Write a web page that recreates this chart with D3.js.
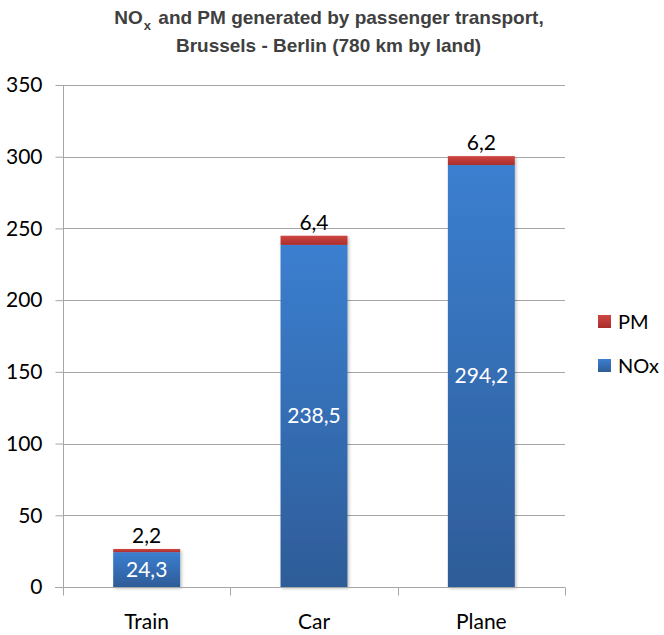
<!DOCTYPE html>
<html><head><meta charset="utf-8">
<script src="https://cdn.jsdelivr.net/npm/d3@7"></script>
<style>body{margin:0;background:#fff}svg{display:block}</style>
</head><body>
<script>
const categories = ["Train", "Car", "Plane"];
const noxValues = [24.3, 238.5, 294.2];
const pmValues = [2.2, 6.4, 6.2];
const noxLabels = ["24,3", "238,5", "294,2"];
const pmLabels = ["2,2", "6,4", "6,2"];
const yTicks = [0, 50, 100, 150, 200, 250, 300, 350];
const seriesNames = ["PM", "NOx"];

const W = 664, H = 635;
const m = {left: 63, right: 99, top: 85, bottom: 48};
const svg = d3.select("body").append("svg").attr("width", W).attr("height", H);
const defs = svg.append("defs");
const gb = defs.append("linearGradient").attr("id","gBlue").attr("x1",0).attr("y1",0).attr("x2",0).attr("y2",1);
gb.append("stop").attr("offset","0%").attr("stop-color","#3b7fd0");
gb.append("stop").attr("offset","100%").attr("stop-color","#2e5c98");
const gr = defs.append("linearGradient").attr("id","gRed").attr("x1",0).attr("y1",0).attr("x2",0).attr("y2",1);
gr.append("stop").attr("offset","0%").attr("stop-color","#d04642");
gr.append("stop").attr("offset","100%").attr("stop-color","#a82e2c");
const f = defs.append("filter").attr("id","sh").attr("x","-10%").attr("y","-10%").attr("width","130%").attr("height","130%");
f.append("feDropShadow").attr("dx",1.5).attr("dy",1.5).attr("stdDeviation",1.5).attr("flood-color","#000").attr("flood-opacity",0.25);

const x = d3.scaleBand().domain(categories).range([m.left, W - m.right]).paddingInner(0.6).paddingOuter(0.3);
const xb = d3.scaleBand().domain(categories).range([m.left, W - m.right]);
const y = d3.scaleLinear().domain([0, 350]).range([H - m.bottom, m.top]);

const font = "Lato, 'Open Sans', sans-serif";

// gridlines
svg.append("g").selectAll("line").data(yTicks.filter(d => d > 0)).join("line")
  .attr("x1", m.left).attr("x2", W - m.right)
  .attr("y1", d => Math.round(y(d)) + 0.5).attr("y2", d => Math.round(y(d)) + 0.5)
  .attr("stroke", "#a6a6a6").attr("stroke-width", 1);

// y axis
const ya = svg.append("g").attr("transform", `translate(${m.left + 0.5},0)`)
  .call(d3.axisLeft(y).tickValues(yTicks).tickSize(8).tickPadding(13).tickFormat(d3.format("d")));
ya.select(".domain").attr("stroke", "#a6a6a6").attr("d", `M0,${y(350)}V${y(0)}`);
ya.selectAll(".tick line").attr("stroke", "#a6a6a6");
ya.selectAll(".tick text").attr("font-family", font).attr("font-size", 21).attr("fill", "#000");

// bars
const bars = svg.append("g").attr("filter", "url(#sh)");
bars.selectAll("rect.nox").data(categories).join("rect").attr("class","nox")
  .attr("x", d => x(d)).attr("width", x.bandwidth())
  .attr("y", (d,i) => y(noxValues[i])).attr("height", (d,i) => y(0) - y(noxValues[i]))
  .attr("fill", "url(#gBlue)");
bars.selectAll("rect.pm").data(categories).join("rect").attr("class","pm")
  .attr("x", d => x(d)).attr("width", x.bandwidth())
  .attr("y", (d,i) => y(noxValues[i] + pmValues[i])).attr("height", (d,i) => y(noxValues[i]) - y(noxValues[i] + pmValues[i]))
  .attr("fill", "url(#gRed)");

// x axis
const xa = svg.append("g").attr("transform", `translate(0,${Math.round(y(0)) + 0.5})`);
xa.append("line").attr("x1", m.left - 8).attr("x2", W - m.right).attr("stroke", "#a6a6a6");
const bounds = [m.left].concat(categories.map(c => xb(c) + xb.bandwidth()));
xa.selectAll("line.t").data(bounds).join("line").attr("class","t")
  .attr("x1", d => Math.round(d) + 0.5).attr("x2", d => Math.round(d) + 0.5)
  .attr("y1", 0).attr("y2", 8).attr("stroke", "#a6a6a6");
xa.selectAll("text").data(categories).join("text")
  .attr("x", d => xb(d) + xb.bandwidth() / 2).attr("y", 41)
  .attr("text-anchor", "middle").attr("font-family", font).attr("font-size", 21).attr("fill", "#000")
  .text(d => d);

// value labels
svg.selectAll("text.pml").data(categories).join("text").attr("class","pml")
  .attr("x", d => x(d) + x.bandwidth() / 2)
  .attr("y", (d,i) => y(noxValues[i] + pmValues[i]) - 6)
  .attr("text-anchor", "middle").attr("font-family", font).attr("font-size", 21).attr("fill", "#000")
  .text((d,i) => pmLabels[i]);
svg.selectAll("text.noxl").data(categories).join("text").attr("class","noxl")
  .attr("x", d => x(d) + x.bandwidth() / 2)
  .attr("y", (d,i) => y(noxValues[i] / 2))
  .attr("dy", "0.35em")
  .attr("text-anchor", "middle").attr("font-family", font).attr("font-size", 21).attr("fill", "#fff")
  .text((d,i) => noxLabels[i]);

// legend
const lg = svg.append("g").attr("transform", "translate(598,315)");
const legendFills = ["url(#gRed)", "url(#gBlue)"];
seriesNames.forEach((s, i) => {
  const g = lg.append("g").attr("transform", `translate(0,${i * 44})`);
  g.append("rect").attr("width", 13).attr("height", 13).attr("fill", legendFills[i]);
  g.append("text").attr("x", 20).attr("y", 6.5).attr("dy", "0.36em")
    .attr("font-family", font).attr("font-size", 20).attr("fill", "#000").text(s);
});

// title
const tfont = "'Liberation Sans Narrow', 'Arial Narrow', 'Liberation Sans', sans-serif";
const t1 = svg.append("text").attr("x", 329).attr("y", 24).attr("text-anchor", "middle")
  .attr("font-family", tfont).attr("font-weight", "bold").attr("font-size", 19).attr("fill", "#404040");
t1.append("tspan").text("NO");
t1.append("tspan").attr("font-size", 13).attr("dy", 6).attr("dx", 1).text("x");
t1.append("tspan").attr("dy", -6).attr("dx", 2).text(" and PM generated by passenger transport,");
svg.append("text").attr("x", 328.5).attr("y", 52).attr("text-anchor", "middle")
  .attr("font-family", tfont).attr("font-weight", "bold").attr("font-size", 19).attr("fill", "#404040")
  .text("Brussels - Berlin (780 km by land)");
</script>
</body></html>
